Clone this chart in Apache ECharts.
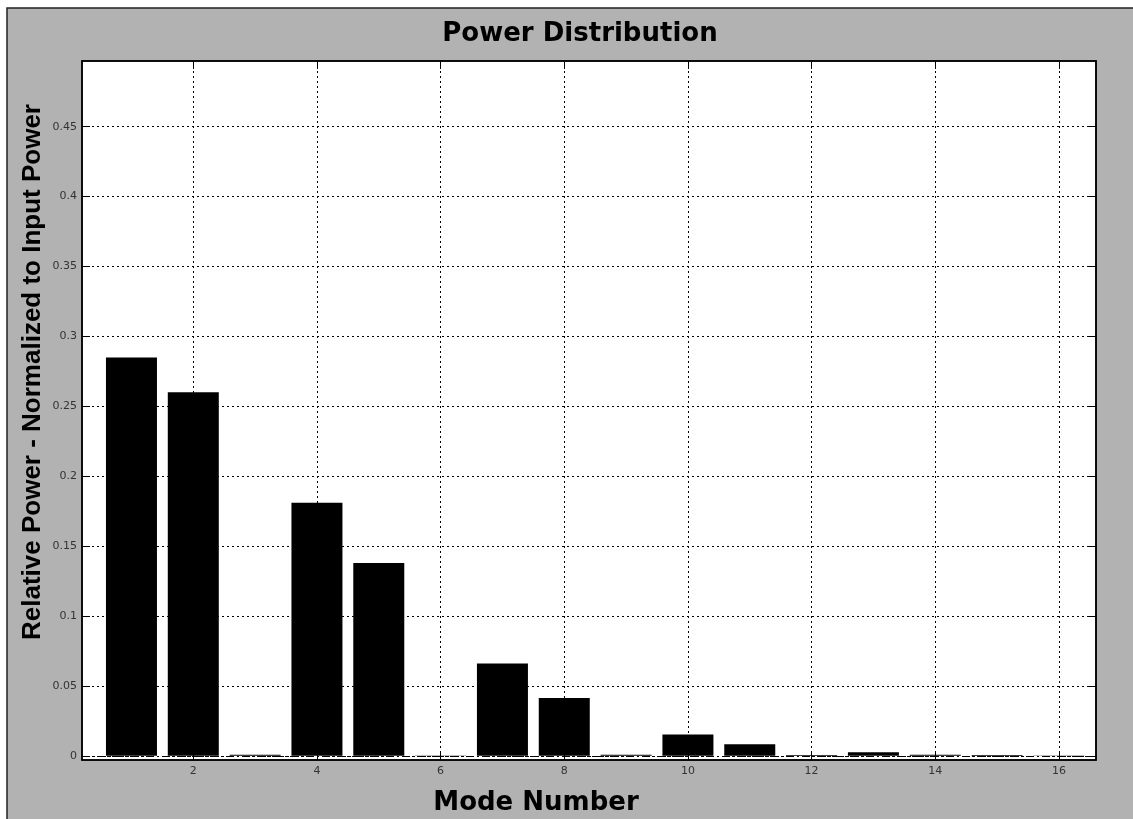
<!DOCTYPE html>
<html>
<head>
<meta charset="utf-8">
<script src="https://cdn.jsdelivr.net/npm/echarts@6/dist/echarts.min.js"></script>
<style>
  html, body { margin: 0; padding: 0; background: #fff; }
  #chart { width: 1133px; height: 819px; }
</style>
</head>
<body>
<div id="chart"></div>
<script>
// Data
const modes = [1, 2, 3, 4, 5, 6, 7, 8, 9, 10, 11, 12, 13, 14, 15, 16];
const power = [0.285, 0.260, 0.0008, 0.181, 0.138, 0.0003, 0.066, 0.0413, 0.0008, 0.0153, 0.0082, 0.0005, 0.0026, 0.0008, 0.0005, 0.0003];
const xTicks = [2, 4, 6, 8, 10, 12, 14, 16];
const yTicks = [0, 0.05, 0.1, 0.15, 0.2, 0.25, 0.3, 0.35, 0.4, 0.45];
const chartTitle = 'Power Distribution';
const xName = 'Mode Number';
const yName = 'Relative Power - Normalized to Input Power';

const chart = echarts.init(document.getElementById('chart'), null, { renderer: 'canvas' });

const dotted = { color: '#000', width: 1, type: [2, 3] };

const xBase = {
  type: 'value', min: 0.2, max: 16.6,
  axisLine: { show: true, onZero: false, lineStyle: { color: '#000', width: 1.5 } },
  axisTick: { show: true, inside: true, length: 8, customValues: xTicks, lineStyle: { color: '#000' } },
  splitLine: { show: false }
};
const yBase = {
  type: 'value', min: -0.003, max: 0.497,
  axisLine: { show: true, onZero: false, lineStyle: { color: '#000', width: 1.5 } },
  axisTick: { show: true, inside: true, length: 8, customValues: yTicks, lineStyle: { color: '#000' } },
  splitLine: { show: false }
};

chart.setOption({
  animation: false,
  backgroundColor: '#ffffff',
  graphic: [
    {
      type: 'rect', z: -100, silent: true,
      shape: { x: 7, y: 8, width: 1130, height: 815 },
      style: { fill: '#b2b2b2', stroke: '#222', lineWidth: 1.5 }
    },
    {
      type: 'text', x: 33, y: 372, rotation: Math.PI / 2, z: 10,
      style: {
        text: yName, font: 'bold 26px "Liberation Sans", Arial, sans-serif',
        fill: '#000', align: 'center', verticalAlign: 'middle'
      }
    }
  ],
  title: [
    {
      text: chartTitle, left: 575, top: 16, textAlign: 'center',
      textStyle: { fontFamily: 'DejaVu Sans', fontWeight: 'bold', fontSize: 26, color: '#000' }
    },
    {
      text: xName, left: 531, top: 785, textAlign: 'center',
      textStyle: { fontFamily: 'DejaVu Sans', fontWeight: 'bold', fontSize: 26, color: '#000' }
    }
  ],
  grid: {
    left: 82, right: 37, top: 61, bottom: 59,
    show: true, backgroundColor: '#ffffff', borderColor: '#000', borderWidth: 1.5
  },
  xAxis: [
    Object.assign({}, xBase, {
      position: 'bottom',
      axisLabel: {
        show: true, customValues: xTicks, margin: 6,
        fontFamily: 'DejaVu Sans', fontSize: 11, color: '#333'
      },
      splitLine: { show: true, lineStyle: dotted }
    }),
    Object.assign({}, xBase, { position: 'top', axisLabel: { show: false } })
  ],
  yAxis: [
    Object.assign({}, yBase, {
      position: 'left',
      axisLabel: {
        show: true, customValues: yTicks, margin: 5,
        fontFamily: 'DejaVu Sans', fontSize: 11, color: '#333'
      },
      splitLine: { show: true, lineStyle: dotted }
    }),
    Object.assign({}, yBase, { position: 'right', axisLabel: { show: false } })
  ],
  series: [
    {
      type: 'bar',
      xAxisIndex: 0, yAxisIndex: 0,
      data: modes.map((m, i) => [m, power[i]]),
      barWidth: 51,
      itemStyle: { color: '#000' },
      markLine: {
        silent: true, symbol: ['none', 'none'],
        label: { show: false },
        lineStyle: { color: '#000', width: 1, type: [8, 3, 2, 3] },
        data: [{ yAxis: 0 }]
      }
    }
  ]
});
</script>
</body>
</html>
